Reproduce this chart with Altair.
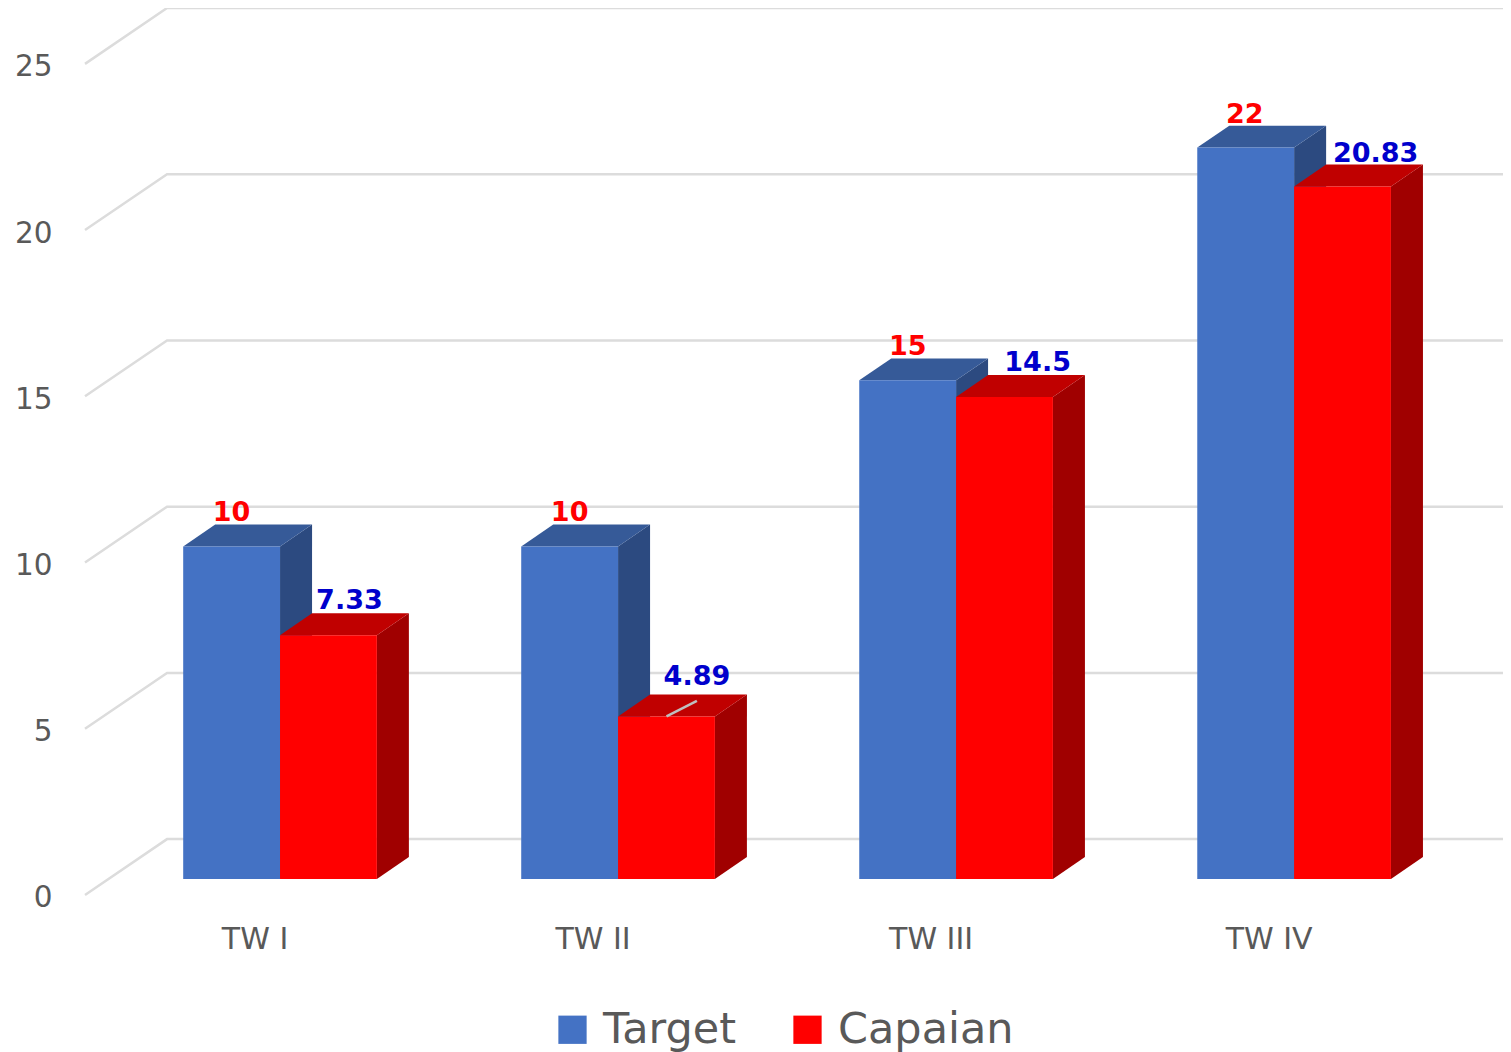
import altair as alt
import pandas as pd

categories = ["TW I", "TW II", "TW III", "TW IV"]
target = [10, 10, 15, 22]
capaian = [7.33, 4.89, 14.5, 20.83]
grid_values = [0, 5, 10, 15, 20, 25]

# Geometry of the fake 3D box, in axis units (one x unit = one category step)
BAR_W = 0.2865
BAR_DX = 0.0947
BAR_DY = 0.66
WALL_FRONT_X = -0.577
WALL_BACK_X = -0.3343
WALL_RIGHT_X = 3.618
WALL_FRONT_DY = -0.48
WALL_BACK_DY = 1.2
X_DOMAIN = [WALL_FRONT_X, WALL_RIGHT_X]
Y_DOMAIN = [-0.632, 26.2]

# Label nudges from the top-centre of each bar
target_label_dx = [0, 0, 0, -0.003]
target_label_dy = [1.02, 1.02, 1.0, 0.97]
capaian_label_dx = [0.062, 0.09, 0.098, 0.098]
capaian_label_dy = [1.03, 1.2, 1.03, 0.98]

SERIES = {
    "Target": dict(values=target, offset=-BAR_W, front="#4472C4", side="#2C4A80", top="#365A98",
                   text="#FF0000", ldx=target_label_dx, ldy=target_label_dy),
    "Capaian": dict(values=capaian, offset=0, front="#FF0000", side="#A00000", top="#C00000",
                    text="#0000CC", ldx=capaian_label_dx, ldy=capaian_label_dy),
}

xs = alt.Scale(domain=X_DOMAIN, nice=False, zero=False)
ys = alt.Scale(domain=Y_DOMAIN, nice=False, zero=False)

# walls
wall_rows = []
for g in grid_values:
    wall_rows += [
        dict(g=g, x=WALL_FRONT_X, y=g + WALL_FRONT_DY, o=0),
        dict(g=g, x=WALL_BACK_X, y=g + WALL_BACK_DY, o=1),
        dict(g=g, x=WALL_RIGHT_X, y=g + WALL_BACK_DY, o=2),
    ]
walls = alt.Chart(pd.DataFrame(wall_rows)).mark_line(
    color="#DCDCDC", strokeWidth=2.5, strokeJoin="miter"
).encode(
    x=alt.X("x:Q", scale=xs,
            axis=alt.Axis(values=[0, 1, 2, 3],
                          labelExpr="['TW I','TW II','TW III','TW IV'][datum.value]",
                          title=None, domain=False, ticks=False, grid=False,
                          labelOffset=-25.5, labelPadding=24, labelFontSize=30,
                          labelFont="DejaVu Sans", labelColor="#595959")),
    y=alt.Y("y:Q", scale=ys,
            axis=alt.Axis(values=grid_values, title=None, domain=False, ticks=False, grid=False,
                          labelOffset=19, labelPadding=33, labelFontSize=29.5,
                          labelFont="DejaVu Sans", labelColor="#595959")),
    detail="g:N",
    order="o:Q",
)

layers = [walls]
for name, s in SERIES.items():
    side_rows, top_rows, front_rows, text_rows = [], [], [], []
    for i, (c, v) in enumerate(zip(categories, s["values"])):
        x0 = i + s["offset"]
        x1 = x0 + BAR_W
        side_rows += [
            dict(c=c, x=x1, y=0, y2=v),
            dict(c=c, x=x1 + BAR_DX, y=BAR_DY, y2=v + BAR_DY),
        ]
        top_rows += [
            dict(c=c, y=v, x=x0, x2=x1),
            dict(c=c, y=v + BAR_DY, x=x0 + BAR_DX, x2=x1 + BAR_DX),
        ]
        front_rows.append(dict(series=name, c=c, x=x0, x2=x1, y=0, y2=v))
        text_rows.append(dict(x=(x0 + x1) / 2 + s["ldx"][i], y=v + s["ldy"][i], t=f"{v:g}"))
    layers.append(
        alt.Chart(pd.DataFrame(side_rows)).mark_area(color=s["side"]).encode(
            x=alt.X("x:Q", scale=xs), y=alt.Y("y:Q", scale=ys), y2="y2:Q", detail="c:N")
    )
    layers.append(
        alt.Chart(pd.DataFrame(top_rows)).mark_area(color=s["top"], orient="horizontal").encode(
            y=alt.Y("y:Q", scale=ys), x=alt.X("x:Q", scale=xs), x2="x2:Q", detail="c:N")
    )
    layers.append(
        alt.Chart(pd.DataFrame(front_rows)).mark_rect().encode(
            x=alt.X("x:Q", scale=xs), x2="x2:Q",
            y=alt.Y("y:Q", scale=ys), y2="y2:Q",
            color=alt.Color("series:N",
                            scale=alt.Scale(domain=list(SERIES), range=[SERIES[k]["front"] for k in SERIES]),
                            legend=alt.Legend(title=None, orient="none", legendX=466, legendY=1000,
                                              direction="horizontal", symbolType="square",
                                              symbolSize=800, symbolStrokeWidth=0,
                                              labelFontSize=43, labelFont="DejaVu Sans",
                                              labelColor="#595959", labelOffset=9,
                                              columnPadding=49, padding=0, labelLimit=300)),
        )
    )
    s["text_rows"] = text_rows

# data labels on top of everything
for name, s in SERIES.items():
    layers.append(
        alt.Chart(pd.DataFrame(s["text_rows"])).mark_text(
            font="DejaVu Sans", fontWeight="bold", fontSize=27, color=s["text"], baseline="middle"
        ).encode(x=alt.X("x:Q", scale=xs), y=alt.Y("y:Q", scale=ys), text="t:N")
    )

# leader line of the moved 4.89 label
i_leader = 1
lx = i_leader + BAR_W / 2
leader = alt.Chart(pd.DataFrame([dict(x=lx, x2=lx + 0.09, y=capaian[i_leader], y2=capaian[i_leader] + 0.47)])).mark_rule(
    color="#BFBFBF", strokeWidth=2.5
).encode(x=alt.X("x:Q", scale=xs), x2="x2:Q", y=alt.Y("y:Q", scale=ys), y2="y2:Q")
layers.append(leader)

chart = alt.layer(*layers).properties(
    width=1418, height=892,
    padding={"left": 77, "top": 0, "right": 0, "bottom": 152},
    autosize=alt.AutoSizeParams(type="none"),
).configure_view(stroke=None)

chart.save("out.html", embed_options={"renderer": "svg", "actions": False})
